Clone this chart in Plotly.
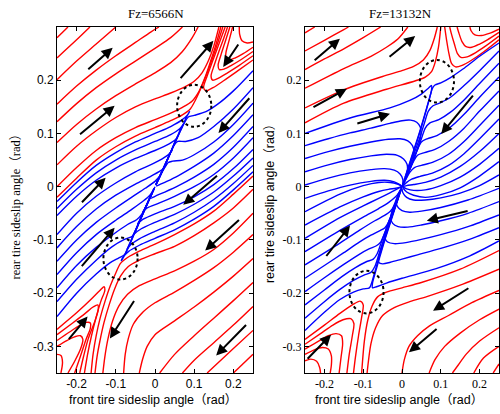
import plotly.graph_objects as go

# ---------------- LEFT PANEL (Fz=6566N) ----------------
left_title = "Fz=6566N"
# red streamlines above the upper separatrix (flow up-right)
left_red_upper = [
    [(-0.25,0.28),(-0.222,0.3)],
    [(-0.25,0.242),(-0.2,0.276),(-0.166,0.3)],
    [(-0.25,0.201),(-0.2,0.236),(-0.15,0.268),(-0.1,0.3)],
    [(-0.25,0.155),(-0.2,0.189),(-0.15,0.219),(-0.1,0.246),(-0.05,0.271),(-0.01,0.291),(0.01,0.3)],
    [(-0.25,0.122),(-0.2,0.156),(-0.15,0.186),(-0.1,0.212),(-0.05,0.236),(0.0,0.26),(0.04,0.28),(0.07,0.3)],
    [(-0.25,0.083),(-0.2,0.117),(-0.15,0.146),(-0.1,0.171),(-0.05,0.193),(0.0,0.214),(0.04,0.233),(0.07,0.254),(0.095,0.28),(0.11,0.3)],
    [(-0.25,0.041),(-0.2,0.076),(-0.15,0.105),(-0.1,0.13),(-0.05,0.15),(0.0,0.165),(0.04,0.176),(0.075,0.187),(0.1,0.198),(0.12,0.214),(0.137,0.238),(0.15,0.264),(0.163,0.3)],
    [(-0.25,0.0),(-0.2,0.036),(-0.15,0.068),(-0.1,0.092),(-0.05,0.111),(0.0,0.126),(0.04,0.138),(0.07,0.149),(0.095,0.161),(0.113,0.18),(0.128,0.206),(0.142,0.236),(0.155,0.266),(0.168,0.3)],
    [(-0.25,-0.02),(-0.2,0.016),(-0.15,0.05),(-0.1,0.075),(-0.05,0.095),(0.0,0.111),(0.04,0.124),(0.07,0.135),(0.09,0.146),(0.102,0.161),(0.116,0.183),(0.131,0.21),(0.146,0.24),(0.159,0.268),(0.173,0.3)],
]
# red hairpins in the top-right corner
left_red_hairpin_top = [
    [(0.25,0.238),(0.21,0.217),(0.175,0.199),(0.148,0.186),(0.13,0.18),(0.124,0.186),(0.133,0.208),(0.148,0.238),(0.163,0.268),(0.179,0.3)],
    [(0.25,0.246),(0.215,0.228),(0.185,0.214),(0.162,0.204),(0.147,0.2),(0.143,0.208),(0.151,0.228),(0.163,0.254),(0.174,0.276),(0.185,0.3)],
    [(0.25,0.254),(0.22,0.239),(0.195,0.228),(0.176,0.221),(0.164,0.22),(0.161,0.228),(0.168,0.247),(0.178,0.27),(0.191,0.3)],
    [(0.25,0.262),(0.225,0.25),(0.205,0.242),(0.19,0.238),(0.181,0.241),(0.181,0.252),(0.188,0.272),(0.198,0.3)],
    [(0.25,0.272),(0.235,0.27),(0.222,0.274),(0.216,0.286),(0.215,0.3)],
]
# red streamlines below the lower separatrix (flow down-left)
left_red_lower = [
    [(0.25,0.02),(0.2,-0.014),(0.15,-0.046),(0.1,-0.07),(0.05,-0.09),(0.0,-0.108),(-0.04,-0.121),(-0.07,-0.133),(-0.088,-0.144),(-0.1,-0.162),(-0.114,-0.186),(-0.127,-0.214),(-0.14,-0.247),(-0.15,-0.28),(-0.158,-0.315),(-0.163,-0.35)],
    [(0.25,-0.005),(0.2,-0.04),(0.15,-0.068),(0.1,-0.092),(0.05,-0.112),(0.0,-0.126),(-0.04,-0.138),(-0.068,-0.15),(-0.088,-0.168),(-0.103,-0.192),(-0.117,-0.222),(-0.13,-0.255),(-0.14,-0.288),(-0.148,-0.32),(-0.153,-0.35)],
    [(0.25,-0.05),(0.2,-0.087),(0.15,-0.118),(0.1,-0.14),(0.05,-0.158),(0.0,-0.173),(-0.04,-0.186),(-0.07,-0.202),(-0.092,-0.224),(-0.108,-0.252),(-0.12,-0.286),(-0.128,-0.32),(-0.133,-0.35)],
    [(0.25,-0.09),(0.2,-0.123),(0.15,-0.152),(0.1,-0.176),(0.05,-0.198),(0.0,-0.218),(-0.03,-0.235),(-0.055,-0.258),(-0.068,-0.285),(-0.076,-0.315),(-0.08,-0.35)],
    [(0.25,-0.135),(0.2,-0.168),(0.15,-0.198),(0.1,-0.226),(0.05,-0.252),(0.0,-0.278),(-0.02,-0.3),(-0.032,-0.325),(-0.04,-0.35)],
    [(0.25,-0.18),(0.2,-0.214),(0.15,-0.247),(0.1,-0.28),(0.05,-0.315),(0.012,-0.35)],
    [(0.25,-0.225),(0.2,-0.26),(0.15,-0.293),(0.1,-0.326),(0.07,-0.35)],
    [(0.25,-0.27),(0.2,-0.304),(0.133,-0.35)],
    [(0.25,-0.315),(0.2,-0.35)],
]
# red hairpins in the bottom-left corner
left_red_hairpin_bottom = [
    [(-0.25,-0.268),(-0.2,-0.237),(-0.165,-0.213),(-0.142,-0.196),(-0.13,-0.188),(-0.128,-0.195),(-0.138,-0.215),(-0.15,-0.245),(-0.162,-0.28),(-0.172,-0.315),(-0.18,-0.35)],
    [(-0.25,-0.278),(-0.21,-0.256),(-0.178,-0.238),(-0.158,-0.226),(-0.146,-0.222),(-0.145,-0.232),(-0.155,-0.256),(-0.17,-0.285),(-0.182,-0.318),(-0.192,-0.35)],
    [(-0.25,-0.289),(-0.218,-0.273),(-0.193,-0.261),(-0.175,-0.255),(-0.165,-0.256),(-0.165,-0.266),(-0.176,-0.287),(-0.19,-0.318),(-0.205,-0.35)],
    [(-0.25,-0.3),(-0.225,-0.289),(-0.205,-0.282),(-0.19,-0.28),(-0.184,-0.287),(-0.19,-0.305),(-0.205,-0.328),(-0.222,-0.35)],
    [(-0.25,-0.315),(-0.24,-0.317),(-0.236,-0.33),(-0.24,-0.35)],
]
# blue streamlines entering from the left edge (flow up-right, converge to origin)
left_blue_left = [
    [(-0.25,-0.028),(-0.2,0.008),(-0.15,0.04),(-0.1,0.064),(-0.05,0.084),(0.0,0.1),(0.04,0.113),(0.068,0.125),(0.083,0.135),(0.088,0.141),(0.082,0.133),(0.07,0.114),(0.051,0.083),(0.031,0.05),(0.013,0.021),(0.002,0.003)],
    [(-0.25,-0.041),(-0.2,-0.005),(-0.15,0.026),(-0.1,0.05),(-0.05,0.069),(0.0,0.085),(0.04,0.098),(0.063,0.109),(0.072,0.117),(0.067,0.111),(0.053,0.087),(0.035,0.057),(0.017,0.027),(0.002,0.003)],
    [(-0.25,-0.054),(-0.2,-0.018),(-0.15,0.012),(-0.1,0.035),(-0.05,0.053),(0.0,0.068),(0.035,0.08),(0.053,0.089),(0.058,0.095),(0.052,0.086),(0.039,0.063),(0.024,0.038),(0.011,0.017),(0.002,0.003)],
    [(-0.25,-0.09),(-0.2,-0.05),(-0.15,-0.018),(-0.1,0.007),(-0.05,0.028),(0.0,0.045),(0.03,0.058),(0.044,0.068),(0.041,0.066),(0.029,0.047),(0.016,0.026),(0.003,0.005)],
    [(-0.25,-0.115),(-0.2,-0.075),(-0.15,-0.042),(-0.1,-0.016),(-0.05,0.005),(-0.01,0.02),(0.02,0.033),(0.031,0.043),(0.026,0.04),(0.015,0.024),(0.003,0.005)],
    [(-0.25,-0.14),(-0.2,-0.1),(-0.15,-0.067),(-0.1,-0.04),(-0.06,-0.02),(-0.025,-0.003),(0.0,0.01),(0.014,0.021),(0.01,0.016),(0.003,0.005)],
    [(-0.25,-0.165),(-0.2,-0.124),(-0.15,-0.09),(-0.1,-0.063),(-0.06,-0.043),(-0.03,-0.027),(-0.012,-0.015),(-0.004,-0.006),(0.0,0.0)],
    [(-0.25,-0.19),(-0.2,-0.148),(-0.15,-0.114),(-0.1,-0.086),(-0.07,-0.071),(-0.047,-0.062),(-0.034,-0.052),(-0.02,-0.032),(-0.007,-0.011)],
    [(-0.25,-0.216),(-0.2,-0.174),(-0.15,-0.138),(-0.11,-0.113),(-0.078,-0.099),(-0.058,-0.093),(-0.05,-0.084),(-0.039,-0.064),(-0.025,-0.04),(-0.01,-0.016)],
    [(-0.25,-0.244),(-0.2,-0.2),(-0.15,-0.164),(-0.115,-0.143),(-0.093,-0.134),(-0.078,-0.128),(-0.069,-0.116),(-0.056,-0.092),(-0.041,-0.067),(-0.023,-0.037),(-0.008,-0.013)],
]
# blue streamlines entering from the right edge (flow down-left, converge to origin)
left_blue_right = [
    [(0.25,0.028),(0.2,-0.006),(0.15,-0.037),(0.1,-0.061),(0.05,-0.081),(0.0,-0.097),(-0.04,-0.11),(-0.068,-0.122),(-0.082,-0.133),(-0.086,-0.139),(-0.08,-0.132),(-0.069,-0.114),(-0.051,-0.084),(-0.031,-0.05),(-0.013,-0.021),(-0.002,-0.003)],
    [(0.25,0.04),(0.2,0.006),(0.15,-0.024),(0.1,-0.048),(0.05,-0.068),(0.0,-0.084),(-0.04,-0.098),(-0.062,-0.109),(-0.071,-0.117),(-0.066,-0.111),(-0.052,-0.087),(-0.034,-0.057),(-0.016,-0.026),(-0.002,-0.003)],
    [(0.25,0.054),(0.2,0.02),(0.15,-0.01),(0.1,-0.033),(0.05,-0.052),(0.0,-0.067),(-0.035,-0.079),(-0.053,-0.089),(-0.058,-0.095),(-0.051,-0.085),(-0.038,-0.063),(-0.023,-0.038),(-0.01,-0.016),(-0.002,-0.003)],
    [(0.25,0.07),(0.2,0.034),(0.15,0.004),(0.1,-0.019),(0.05,-0.037),(0.0,-0.051),(-0.03,-0.061),(-0.044,-0.069),(-0.041,-0.066),(-0.029,-0.047),(-0.016,-0.026),(-0.003,-0.005)],
    [(0.25,0.092),(0.2,0.054),(0.15,0.023),(0.1,0.0),(0.05,-0.018),(0.01,-0.031),(-0.02,-0.04),(-0.031,-0.047),(-0.026,-0.042),(-0.015,-0.024),(-0.003,-0.005)],
    [(0.25,0.113),(0.2,0.074),(0.15,0.042),(0.1,0.018),(0.06,0.002),(0.025,-0.01),(0.0,-0.018),(-0.014,-0.023),(-0.01,-0.016),(-0.003,-0.005)],
    [(0.25,0.135),(0.2,0.096),(0.15,0.063),(0.1,0.038),(0.06,0.021),(0.03,0.01),(0.012,0.004),(0.003,0.001)],
    [(0.25,0.157),(0.2,0.117),(0.15,0.084),(0.1,0.06),(0.07,0.05),(0.045,0.048),(0.033,0.045),(0.021,0.031),(0.008,0.012)],
    [(0.25,0.186),(0.2,0.146),(0.15,0.113),(0.11,0.092),(0.078,0.085),(0.058,0.085),(0.049,0.078),(0.039,0.063),(0.024,0.038),(0.01,0.016)],
    [(0.25,0.218),(0.2,0.18),(0.16,0.155),(0.13,0.141),(0.1,0.134),(0.085,0.131),(0.075,0.12),(0.062,0.1),(0.046,0.074),(0.03,0.048),(0.014,0.022),(0.003,0.005)],
]
# arrows: (tail_x, tail_y, head_x, head_y)
left_arrows = [
    (-0.174,0.218,-0.108,0.261),(-0.195,0.096,-0.103,0.152),(0.062,0.201,0.149,0.274),
    (0.215,0.27,0.174,0.225),(0.244,0.169,0.162,0.101),(-0.19,-0.032,-0.126,0.017),
    (0.162,0.023,0.072,-0.034),(-0.19,-0.152,-0.103,-0.077),(0.218,-0.06,0.128,-0.12),
    (-0.223,-0.289,-0.172,-0.244),(-0.051,-0.212,-0.115,-0.285),(0.236,-0.257,0.156,-0.317),
]
# dotted circles around the saddle points: (center_x, center_y, radius_x, radius_y)
left_circles = [(0.100,0.152,0.0436,0.0394),(-0.088,-0.135,0.0436,0.0394)]

# ---------------- RIGHT PANEL (Fz=13132N) ----------------
right_title = "Fz=13132N"
right_red_upper = [
    [(-0.25,0.12),(-0.15,0.157),(-0.04,0.183),(0.035,0.199),(0.06,0.206),(0.076,0.216),(0.086,0.235),(0.094,0.262),(0.1,0.3)],
    [(-0.25,0.148),(-0.15,0.182),(-0.05,0.207),(0.0,0.218),(0.03,0.226),(0.055,0.238),(0.072,0.256),(0.083,0.278),(0.091,0.3)],
    [(-0.25,0.185),(-0.15,0.222),(-0.08,0.245),(-0.04,0.262),(-0.01,0.278),(0.015,0.3)],
    [(-0.25,0.22),(-0.2,0.24),(-0.15,0.259),(-0.1,0.28),(-0.055,0.3)],
    [(-0.25,0.255),(-0.2,0.275),(-0.15,0.295),(-0.138,0.3)],
    [(-0.25,0.289),(-0.225,0.3)],
]
right_red_hairpin_top = [
    [(0.25,0.276),(0.21,0.253),(0.18,0.238),(0.155,0.228),(0.138,0.225),(0.128,0.231),(0.121,0.25),(0.115,0.275),(0.11,0.3)],
    [(0.25,0.283),(0.215,0.264),(0.19,0.252),(0.168,0.244),(0.152,0.243),(0.143,0.25),(0.135,0.268),(0.127,0.288),(0.123,0.3)],
    [(0.25,0.29),(0.22,0.276),(0.2,0.268),(0.18,0.262),(0.165,0.263),(0.155,0.272),(0.146,0.29),(0.142,0.3)],
    [(0.25,0.296),(0.225,0.288),(0.205,0.284),(0.188,0.285),(0.178,0.293),(0.175,0.3)],
]
right_red_lower = [
    [(0.25,-0.12),(0.15,-0.155),(0.05,-0.18),(0.0,-0.19),(-0.04,-0.198),(-0.063,-0.207),(-0.077,-0.224),(-0.088,-0.25),(-0.097,-0.29),(-0.104,-0.35)],
    [(0.25,-0.155),(0.15,-0.185),(0.07,-0.205),(0.02,-0.216),(-0.02,-0.227),(-0.05,-0.242),(-0.068,-0.265),(-0.08,-0.295),(-0.09,-0.35)],
    [(0.25,-0.195),(0.18,-0.218),(0.12,-0.242),(0.07,-0.262),(0.04,-0.28),(0.018,-0.3),(0.006,-0.325),(0.0,-0.35)],
    [(0.25,-0.23),(0.2,-0.25),(0.15,-0.275),(0.11,-0.3),(0.085,-0.325),(0.07,-0.35)],
    [(0.25,-0.265),(0.2,-0.29),(0.165,-0.315),(0.145,-0.335),(0.13,-0.35)],
    [(0.25,-0.3),(0.21,-0.322),(0.185,-0.35)],
    [(0.25,-0.333),(0.235,-0.35)],
]
right_red_hairpin_bottom = [
    [(-0.25,-0.287),(-0.2,-0.26),(-0.16,-0.238),(-0.128,-0.222),(-0.108,-0.215),(-0.1,-0.222),(-0.104,-0.245),(-0.112,-0.28),(-0.12,-0.32),(-0.125,-0.35)],
    [(-0.25,-0.296),(-0.21,-0.276),(-0.178,-0.26),(-0.152,-0.25),(-0.132,-0.248),(-0.124,-0.257),(-0.128,-0.28),(-0.136,-0.315),(-0.142,-0.35)],
    [(-0.25,-0.305),(-0.215,-0.29),(-0.19,-0.28),(-0.17,-0.276),(-0.156,-0.28),(-0.153,-0.295),(-0.157,-0.32),(-0.162,-0.35)],
    [(-0.25,-0.315),(-0.225,-0.306),(-0.205,-0.302),(-0.19,-0.305),(-0.182,-0.318),(-0.182,-0.335),(-0.185,-0.35)],
    [(-0.25,-0.327),(-0.235,-0.324),(-0.22,-0.328),(-0.212,-0.34),(-0.21,-0.35)],
]
right_blue_left = [
    [(-0.25,0.1),(-0.134,0.129),(-0.031,0.148),(0.02,0.162),(0.05,0.174),(0.068,0.185),(0.076,0.19),(0.076,0.181),(0.069,0.162),(0.058,0.134),(0.045,0.102),(0.03,0.068),(0.015,0.034),(0.003,0.007)],
    [(-0.25,0.077),(-0.19,0.09),(-0.134,0.101),(-0.08,0.11),(-0.031,0.119),(0.0,0.124),(0.022,0.125),(0.038,0.121),(0.047,0.112),(0.049,0.1),(0.045,0.084),(0.036,0.064),(0.024,0.041),(0.011,0.018),(0.002,0.003)],
    [(-0.25,0.053),(-0.19,0.066),(-0.134,0.076),(-0.08,0.084),(-0.035,0.089),(-0.005,0.09),(0.015,0.086),(0.027,0.077),(0.031,0.065),(0.029,0.051),(0.021,0.034),(0.011,0.017),(0.002,0.003)],
    [(-0.25,0.028),(-0.19,0.041),(-0.134,0.051),(-0.08,0.058),(-0.04,0.061),(-0.012,0.059),(0.004,0.052),(0.013,0.042),(0.014,0.03),(0.01,0.018),(0.003,0.005)],
    [(-0.25,0.003),(-0.19,0.016),(-0.134,0.026),(-0.08,0.032),(-0.045,0.034),(-0.02,0.031),(-0.005,0.024),(0.002,0.014),(0.002,0.006),(0.0,0.0)],
    [(-0.25,-0.022),(-0.19,-0.008),(-0.134,0.003),(-0.08,0.01),(-0.045,0.012),(-0.02,0.009),(-0.006,0.004),(0.0,0.0)],
    [(-0.25,-0.047),(-0.16,-0.014),(-0.1,0.002),(-0.06,0.008),(-0.03,0.008),(-0.012,0.005),(-0.003,0.002),(0.0,0.0)],
    [(-0.25,-0.072),(-0.16,-0.038),(-0.1,-0.019),(-0.06,-0.009),(-0.035,-0.005),(-0.016,-0.003),(-0.005,-0.001),(0.0,0.0)],
    [(-0.25,-0.097),(-0.16,-0.058),(-0.1,-0.036),(-0.06,-0.022),(-0.03,-0.011),(-0.012,-0.004),(0.0,0.0)],
    [(-0.25,-0.122),(-0.16,-0.082),(-0.1,-0.057),(-0.06,-0.041),(-0.035,-0.03),(-0.018,-0.02),(-0.007,-0.01),(0.0,0.0)],
    [(-0.25,-0.147),(-0.16,-0.106),(-0.11,-0.082),(-0.07,-0.064),(-0.045,-0.054),(-0.03,-0.046),(-0.018,-0.033),(-0.008,-0.016),(-0.002,-0.004)],
    [(-0.25,-0.172),(-0.2,-0.148),(-0.15,-0.124),(-0.11,-0.104),(-0.08,-0.091),(-0.058,-0.083),(-0.044,-0.077),(-0.034,-0.066),(-0.022,-0.046),(-0.01,-0.022)],
    [(-0.25,-0.197),(-0.2,-0.171),(-0.15,-0.146),(-0.11,-0.127),(-0.085,-0.117),(-0.066,-0.111),(-0.055,-0.104),(-0.045,-0.088),(-0.032,-0.063),(-0.015,-0.03)],
    [(-0.25,-0.222),(-0.2,-0.194),(-0.155,-0.169),(-0.12,-0.152),(-0.092,-0.141),(-0.074,-0.136),(-0.064,-0.126),(-0.054,-0.106),(-0.04,-0.078),(-0.02,-0.04)],
    [(-0.25,-0.247),(-0.2,-0.216),(-0.16,-0.193),(-0.125,-0.176),(-0.098,-0.166),(-0.08,-0.161),(-0.07,-0.15),(-0.059,-0.126),(-0.044,-0.093),(-0.024,-0.05)],
    [(-0.25,-0.27),(-0.2,-0.236),(-0.16,-0.212),(-0.125,-0.198),(-0.1,-0.192),(-0.084,-0.19),(-0.077,-0.178),(-0.07,-0.16),(-0.058,-0.13),(-0.043,-0.095),(-0.024,-0.052),(-0.008,-0.017)],
]
right_blue_right = [
    [(0.25,-0.102),(0.175,-0.13),(0.088,-0.154),(0.0,-0.172),(-0.04,-0.181),(-0.066,-0.188),(-0.076,-0.19),(-0.076,-0.181),(-0.069,-0.162),(-0.058,-0.134),(-0.045,-0.102),(-0.03,-0.068),(-0.015,-0.034),(-0.003,-0.007)],
    [(0.25,-0.077),(0.17,-0.1),(0.1,-0.116),(0.04,-0.128),(0.0,-0.136),(-0.03,-0.142),(-0.05,-0.145),(-0.06,-0.142),(-0.06,-0.132),(-0.052,-0.112),(-0.04,-0.085),(-0.026,-0.056),(-0.012,-0.026),(-0.002,-0.005)],
    [(0.25,-0.053),(0.17,-0.075),(0.1,-0.09),(0.05,-0.099),(0.01,-0.105),(-0.02,-0.107),(-0.037,-0.104),(-0.044,-0.096),(-0.042,-0.083),(-0.034,-0.065),(-0.022,-0.043),(-0.01,-0.02),(-0.002,-0.004)],
    [(0.25,-0.028),(0.17,-0.05),(0.1,-0.064),(0.05,-0.072),(0.015,-0.076),(-0.01,-0.075),(-0.024,-0.069),(-0.029,-0.059),(-0.026,-0.046),(-0.018,-0.03),(-0.008,-0.014),(-0.001,-0.002)],
    [(0.25,-0.003),(0.17,-0.025),(0.1,-0.039),(0.05,-0.046),(0.02,-0.048),(0.0,-0.045),(-0.012,-0.037),(-0.015,-0.027),(-0.011,-0.016),(-0.004,-0.006)],
    [(0.25,0.022),(0.2,0.002),(0.15,-0.012),(0.1,-0.021),(0.06,-0.025),(0.03,-0.025),(0.012,-0.02),(0.002,-0.011),(0.0,-0.003)],
    [(0.25,0.047),(0.2,0.02),(0.15,-0.002),(0.1,-0.015),(0.06,-0.02),(0.03,-0.016),(0.012,-0.01),(0.003,-0.003)],
    [(0.25,0.072),(0.2,0.042),(0.15,0.018),(0.1,0.002),(0.06,-0.006),(0.03,-0.007),(0.012,-0.004),(0.0,0.0)],
    [(0.25,0.1),(0.2,0.066),(0.15,0.038),(0.1,0.018),(0.06,0.008),(0.03,0.004),(0.012,0.002),(0.0,0.0)],
    [(0.25,0.127),(0.2,0.09),(0.16,0.062),(0.12,0.04),(0.08,0.026),(0.045,0.019),(0.025,0.014),(0.012,0.008),(0.003,0.002)],
    [(0.25,0.153),(0.2,0.115),(0.16,0.085),(0.12,0.061),(0.08,0.046),(0.05,0.04),(0.032,0.036),(0.02,0.027),(0.01,0.014),(0.003,0.004)],
    [(0.25,0.18),(0.2,0.142),(0.16,0.11),(0.12,0.085),(0.085,0.07),(0.058,0.064),(0.04,0.059),(0.03,0.048),(0.02,0.032),(0.009,0.014)],
    [(0.25,0.206),(0.2,0.168),(0.16,0.136),(0.125,0.112),(0.09,0.096),(0.065,0.09),(0.05,0.084),(0.04,0.07),(0.028,0.048),(0.014,0.024),(0.003,0.005)],
    [(0.25,0.232),(0.2,0.194),(0.16,0.163),(0.125,0.14),(0.095,0.126),(0.072,0.12),(0.06,0.11),(0.05,0.09),(0.037,0.064),(0.02,0.034),(0.006,0.01)],
    [(0.25,0.255),(0.2,0.218),(0.16,0.19),(0.125,0.168),(0.1,0.158),(0.08,0.152),(0.068,0.142),(0.058,0.12),(0.045,0.09),(0.03,0.06),(0.014,0.028)],
    [(0.25,0.27),(0.2,0.245),(0.157,0.221),(0.125,0.205),(0.1,0.195),(0.085,0.191),(0.078,0.184),(0.07,0.163),(0.058,0.132),(0.043,0.095),(0.024,0.052),(0.008,0.017)],
]
right_arrows = [
    (-0.229,0.235,-0.160,0.278),(-0.036,0.242,0.034,0.283),(-0.232,0.148,-0.142,0.184),
    (-0.119,0.118,-0.031,0.137),(0.186,0.174,0.101,0.099),(-0.198,-0.133,-0.134,-0.073),
    (0.173,-0.045,0.064,-0.064),(0.175,-0.189,0.08,-0.233),(0.093,-0.265,0.018,-0.311),
    (-0.247,-0.326,-0.183,-0.278),
]
right_circles = [(0.090,0.198,0.044,0.040),(-0.0915,-0.198,0.044,0.040)]

# axis ticks
x_ticks = [-0.2, -0.1, 0, 0.1, 0.2]
x_tick_text = ["-0.2", "-0.1", "0", "0.1", "0.2"]
y_ticks = [-0.3, -0.2, -0.1, 0, 0.1, 0.2]
y_tick_text = ["-0.3", "-0.2", "-0.1", "0", "0.1", "0.2"]
x_label = "front tire sideslip angle（rad）"
y_label = "rear tire sideslip angle（rad）"

RED = "#ff0000"
BLUE = "#0000ff"
SANS = "Liberation Sans, Arial, Noto Sans CJK SC, sans-serif"
SERIF = "Liberation Serif, Times New Roman, Noto Sans CJK SC, serif"

fig = go.Figure()

def add_curves(curves, color, xa, ya):
    for c in curves:
        fig.add_trace(go.Scatter(
            x=[p[0] for p in c], y=[p[1] for p in c], mode="lines",
            line=dict(color=color, width=1.4, shape="spline", smoothing=0.8),
            xaxis=xa, yaxis=ya, hoverinfo="skip", showlegend=False))

for grp, col in [(left_red_upper, RED), (left_red_hairpin_top, RED), (left_red_lower, RED),
                 (left_red_hairpin_bottom, RED), (left_blue_left, BLUE), (left_blue_right, BLUE)]:
    add_curves(grp, col, "x", "y")
for grp, col in [(right_red_upper, RED), (right_red_hairpin_top, RED), (right_red_lower, RED),
                 (right_red_hairpin_bottom, RED), (right_blue_left, BLUE), (right_blue_right, BLUE)]:
    add_curves(grp, col, "x2", "y2")

annotations = []
for arrows, xr, yr in [(left_arrows, "x", "y"), (right_arrows, "x2", "y2")]:
    for tx, ty, hx, hy in arrows:
        annotations.append(dict(x=hx, y=hy, ax=tx, ay=ty, xref=xr, yref=yr, axref=xr, ayref=yr,
                                text="", showarrow=True, arrowhead=2, arrowsize=1.1,
                                arrowwidth=2, arrowcolor="black", standoff=0, startstandoff=0))

shapes = []
for circles, xr, yr in [(left_circles, "x", "y"), (right_circles, "x2", "y2")]:
    for cx, cy, rx, ry in circles:
        shapes.append(dict(type="circle", xref=xr, yref=yr, x0=cx - rx, x1=cx + rx,
                           y0=cy - ry, y1=cy + ry, line=dict(color="black", width=2, dash="dot")))

# titles and axis labels
annotations += [
    dict(text=left_title, x=0.312, y=1.04, xref="paper", yref="paper", showarrow=False,
         font=dict(family=SERIF, size=13, color="black"), xanchor="center", yanchor="middle"),
    dict(text=right_title, x=0.80, y=1.04, xref="paper", yref="paper", showarrow=False,
         font=dict(family=SERIF, size=13, color="black"), xanchor="center", yanchor="middle"),
    dict(text=x_label, x=0.306, y=-0.078, xref="paper", yref="paper", showarrow=False,
         font=dict(family=SANS, size=12.5, color="black"), xanchor="center", yanchor="middle"),
    dict(text=x_label, x=0.798, y=-0.078, xref="paper", yref="paper", showarrow=False,
         font=dict(family=SANS, size=12.5, color="black"), xanchor="center", yanchor="middle"),
    dict(text=y_label, x=0.032, y=0.49, xref="paper", yref="paper", showarrow=False, textangle=-90,
         font=dict(family=SERIF, size=12.5, color="black"), xanchor="center", yanchor="middle"),
    dict(text=y_label, x=0.54, y=0.497, xref="paper", yref="paper", showarrow=False, textangle=-90,
         font=dict(family=SANS, size=12.5, color="black"), xanchor="center", yanchor="middle"),
]

def xaxis(domain, anchor, font):
    return dict(domain=domain, anchor=anchor, range=[-0.25, 0.25], tickvals=x_ticks, ticktext=x_tick_text,
                ticks="inside", ticklen=4, tickcolor="black", showline=True, linecolor="black", linewidth=1,
                mirror="ticks", showgrid=False, zeroline=False, automargin=False,
                tickfont=dict(family=font, size=12, color="black"))

def yaxis(anchor, font):
    return dict(domain=[0, 1], anchor=anchor, range=[-0.35, 0.3], tickvals=y_ticks, ticktext=y_tick_text,
                ticks="inside", ticklen=4, tickcolor="black", showline=True, linecolor="black", linewidth=1,
                mirror="ticks", showgrid=False, zeroline=False, automargin=False,
                tickfont=dict(family=font, size=12, color="black"))

fig.update_layout(
    width=500, height=414, margin=dict(l=0, r=0, t=27, b=41),
    paper_bgcolor="white", plot_bgcolor="white", showlegend=False, template="none",
    xaxis=xaxis([0.114, 0.506], "y", SANS), yaxis=yaxis("x", SANS),
    xaxis2=xaxis([0.61, 0.998], "y2", SERIF), yaxis2=yaxis("x2", SERIF),
    annotations=annotations, shapes=shapes,
)

fig.write_html("out.html")
